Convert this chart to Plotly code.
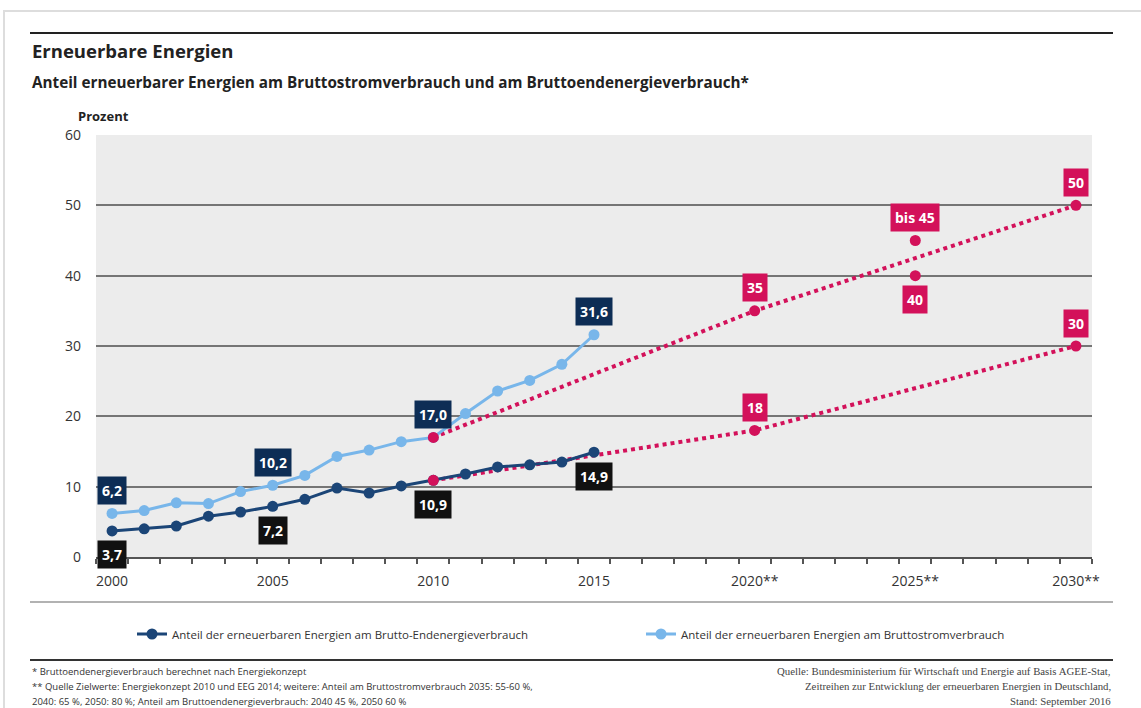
import plotly.graph_objects as go

# ---- data -------------------------------------------------------------
years = list(range(2000, 2016))
strom = [6.2, 6.6, 7.7, 7.6, 9.3, 10.2, 11.6, 14.3, 15.2, 16.4,
         17.0, 20.4, 23.6, 25.1, 27.4, 31.6]          # Bruttostromverbrauch
endenergie = [3.7, 4.0, 4.4, 5.8, 6.4, 7.2, 8.2, 9.8, 9.1, 10.1,
              10.9, 11.8, 12.8, 13.1, 13.5, 14.9]     # Brutto-Endenergieverbrauch

ziel_jahre = [2010, 2020, 2030]
ziel_strom = [17.0, 35, 50]
ziel_end = [10.9, 18, 30]
korridor_jahr = 2025
korridor_strom = [40, 45]

label_years = [2000, 2005, 2010, 2015]
x_tick_years = [2000, 2005, 2010, 2015, 2020, 2025, 2030]
x_tick_text = ["2000", "2005", "2010", "2015", "2020**", "2025**", "2030**"]
y_ticks = [0, 10, 20, 30, 40, 50, 60]

# ---- styling ------------------------------------------------------------
W, H = 1141, 708
L, R, T, B = 96, 1092, 135, 557          # plot area in pixels
DARK = "#1b4577"
LIGHT = "#78b6ea"
PINK = "#d3115a"
NAVY_BOX = "#0d2d55"
BLACK_BOX = "#111111"
FONT = "Open Sans"


def px(xp):
    return (xp - L) / (R - L)


def py(yp):
    return (B - yp) / (B - T)


def fmt(v):
    return f"{v:.1f}".replace(".", ",")


fig = go.Figure()

# target paths (dotted)
for vals in (ziel_strom, ziel_end):
    fig.add_trace(go.Scatter(
        x=ziel_jahre, y=vals, mode="lines",
        line=dict(color=PINK, width=4, dash="dot"),
        showlegend=False, hoverinfo="skip"))

# measured series
fig.add_trace(go.Scatter(
    x=years, y=strom, mode="lines+markers",
    name="Anteil der erneuerbaren Energien am Bruttostromverbrauch",
    line=dict(color=LIGHT, width=3), marker=dict(color=LIGHT, size=11),
    legend="legend2"))
fig.add_trace(go.Scatter(
    x=years, y=endenergie, mode="lines+markers",
    name="Anteil der erneuerbaren Energien am Brutto-Endenergieverbrauch",
    line=dict(color=DARK, width=3), marker=dict(color=DARK, size=11),
    legend="legend"))

# target markers
fig.add_trace(go.Scatter(
    x=ziel_jahre * 2 + [korridor_jahr] * len(korridor_strom),
    y=ziel_strom + ziel_end + korridor_strom,
    mode="markers", marker=dict(color=PINK, size=11),
    showlegend=False, hoverinfo="skip"))

annotations = []


def box(x, y, text, color, shift):
    annotations.append(dict(
        x=x, y=y, xref="x", yref="y", text=text, showarrow=False,
        yshift=shift, bgcolor=color, borderpad=4,
        font=dict(family=FONT, size=14, color="white", weight=700)))


for yr in label_years:
    i = years.index(yr)
    box(yr, strom[i], fmt(strom[i]), NAVY_BOX, 23)
    box(yr, endenergie[i], fmt(endenergie[i]), BLACK_BOX, -24)

for yr, v in zip(ziel_jahre[1:], ziel_strom[1:]):
    box(yr, v, f"{v:g}", PINK, 23)
for yr, v in zip(ziel_jahre[1:], ziel_end[1:]):
    box(yr, v, f"{v:g}", PINK, 23)
box(korridor_jahr, max(korridor_strom), f"bis {max(korridor_strom)}", PINK, 23)
box(korridor_jahr, min(korridor_strom), f"{min(korridor_strom)}", PINK, -24)


def text(xp, yp, s, size, color="#222", bold=False, anchor="left", family=FONT):
    annotations.append(dict(
        x=px(xp), y=py(yp), xref="paper", yref="paper", text=s,
        showarrow=False, xanchor=anchor, yanchor="middle", align=anchor,
        font=dict(family=family, size=size, color=color,
                  weight=700 if bold else 400)))


text(30, 50, "Erneuerbare Energien", 18.5, bold=True)
text(30, 82, "Anteil erneuerbarer Energien am Bruttostromverbrauch und am "
     "Bruttoendenergieverbrauch*", 15.25, bold=True)
text(76, 116, "Prozent", 13, bold=True)

foot_left = [
    "* Bruttoendenergieverbrauch berechnet nach Energiekonzept",
    "** Quelle Zielwerte: Energiekonzept 2010 und EEG 2014; weitere: Anteil am "
    "Bruttostromverbrauch 2035: 55-60 %,",
    "2040: 65 %, 2050: 80 %; Anteil am Bruttoendenergieverbrauch: 2040 45 %, 2050 60 %",
]
foot_right = [
    "Quelle: Bundesministerium für Wirtschaft und Energie auf Basis AGEE-Stat,",
    "Zeitreihen zur Entwicklung der erneuerbaren Energien in Deutschland,",
    "Stand: September 2016",
]
for k, s in enumerate(foot_left):
    text(30, 671 + 15 * k, s, 9.5, color="#333")
for k, s in enumerate(foot_right):
    text(1113, 671 + 15 * k, s, 10.8, color="#444", anchor="right",
         family="Liberation Serif")

shapes = [
    # card frame
    dict(type="rect", xref="paper", yref="paper", x0=px(4), x1=px(1150),
         y0=py(11), y1=py(720), line=dict(color="#dddddd", width=2),
         layer="below"),
    # rules
    dict(type="line", xref="paper", yref="paper", x0=px(30), x1=px(1113),
         y0=py(33), y1=py(33), line=dict(color="#222", width=2)),
    dict(type="line", xref="paper", yref="paper", x0=px(30), x1=px(1113),
         y0=py(602), y1=py(602), line=dict(color="#999", width=1.5)),
    dict(type="line", xref="paper", yref="paper", x0=px(30), x1=px(1113),
         y0=py(660), y1=py(660), line=dict(color="#333", width=2)),
]

half_years = [y + 0.5 for y in range(1999, 2031)]
legend_style = dict(orientation="h", yanchor="middle", xanchor="left",
                    font=dict(size=11.5, color="#333"), bgcolor="rgba(0,0,0,0)")

fig.update_layout(
    width=W, height=H,
    margin=dict(l=L, r=W - R, t=T, b=H - B, pad=0),
    paper_bgcolor="white", plot_bgcolor="#ececec",
    font=dict(family=FONT, color="#333"),
    showlegend=True,
    legend=dict(x=px(132), y=py(634), **legend_style),
    legend2=dict(x=px(641), y=py(634), **legend_style),
    xaxis=dict(range=[1999.5, 2030.5], tickvals=half_years,
               ticktext=[""] * len(half_years), ticks="outside", ticklen=5,
               tickwidth=1.5, tickcolor="#555", showgrid=False, zeroline=False,
               showline=True, linecolor="#555", linewidth=2),
    xaxis2=dict(range=[1999.5, 2030.5], overlaying="x", anchor="y", side="bottom",
                tickvals=x_tick_years, ticktext=x_tick_text, ticks="",
                showgrid=False, zeroline=False, showline=False,
                tickfont=dict(size=14, color="#333"), ticklabelstandoff=14),
    yaxis=dict(range=[0, 60], tickvals=y_ticks, showgrid=True,
               gridcolor="#757575", gridwidth=1.5, zeroline=False, showline=False,
               ticks="", tickfont=dict(size=14, color="#333"),
               ticklabelstandoff=14),
    annotations=annotations, shapes=shapes,
)

# empty trace so that xaxis2 is rendered
fig.add_trace(go.Scatter(x=[2000], y=[None], xaxis="x2", showlegend=False,
                         hoverinfo="skip"))

fig.write_html("out.html")
